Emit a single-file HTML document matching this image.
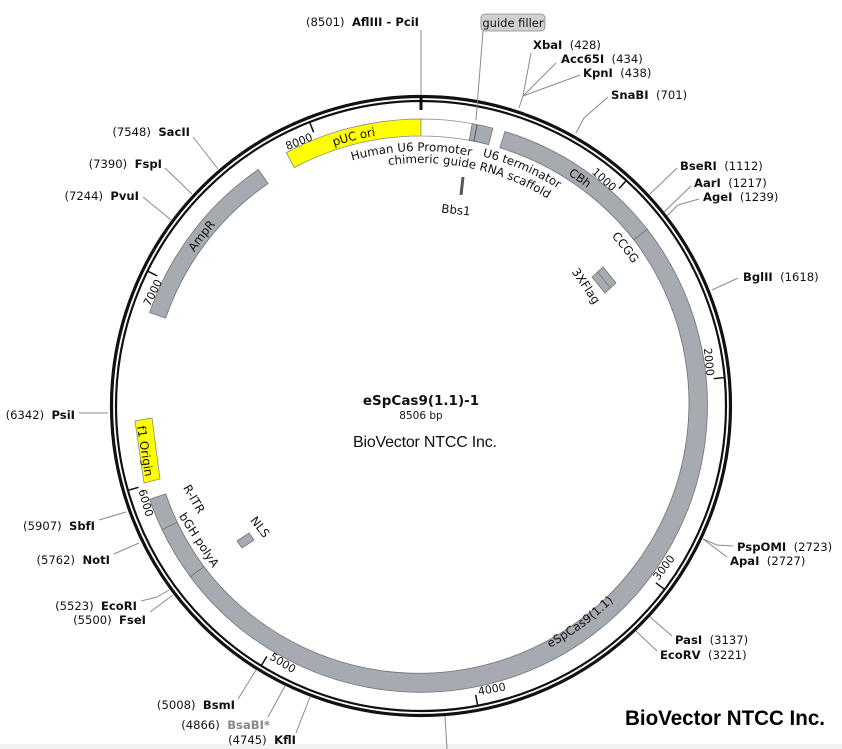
<!DOCTYPE html>
<html><head><meta charset="utf-8"><style>
html,body{margin:0;padding:0;background:#fff;}
svg{display:block;}
.e{font-family:"DejaVu Sans","Liberation Sans",sans-serif;font-size:11.6px;fill:#111;white-space:pre;}
.e tspan.b{font-weight:bold;}
.f{font-family:"DejaVu Sans","Liberation Sans",sans-serif;font-size:11.8px;fill:#111;}
.ln{stroke:#8a8a8a;stroke-width:1;fill:none;}
.band{fill:#a6abb1;stroke:#6f7378;stroke-width:0.8;}
.tk{stroke:#111;stroke-width:1.5;}
.tl{font-family:"DejaVu Sans","Liberation Sans",sans-serif;font-size:11px;fill:#111;}
</style></head><body>
<svg width="842" height="749" viewBox="0 0 842 749" xmlns="http://www.w3.org/2000/svg">
<defs>
<path id="c278" d="M421,684 A278,278 0 1 1 421,128 A278,278 0 1 1 421,684"/>
<path id="c255" d="M421,661 A255,255 0 1 1 421,151 A255,255 0 1 1 421,661"/>
<path id="c257" d="M421,663 A257,257 0 1 1 421,149 A257,257 0 1 1 421,663"/>
<path id="c243" d="M421,649 A243,243 0 1 1 421,163 A243,243 0 1 1 421,649"/>
<path id="w274" d="M421,680 A274,274 0 1 0 421,132 A274,274 0 1 0 421,680"/>
</defs>
<rect x="0" y="744" width="842" height="5" fill="#f2f2f2"/>

<circle cx="421" cy="406" r="309.5" fill="none" stroke="#111" stroke-width="3.2"/>
<circle cx="421" cy="406" r="305" fill="none" stroke="#111" stroke-width="2.2"/>

<path d="M286.3,152.6 A287,287 0 0,1 421,119 L421,136 A270,270 0 0,0 294.2,167.6 Z" fill="#ffff00" stroke="#888" stroke-width="0.8"/>
<path d="M421,119 A287,287 0 0,1 472.3,123.6 L469.3,140.3 A270,270 0 0,0 421,136 Z" fill="#fff" stroke="#888" stroke-width="0.8"/>
<path class="band" d="M472.3,123.6 A287,287 0 0,1 492.9,128.2 L488.6,144.6 A270,270 0 0,0 469.3,140.3 Z"/>
<line x1="477.2" y1="124.6" x2="473.9" y2="141.2" stroke="#555" stroke-width="1"/>
<path class="band" d="M504.9,131.5 A287,287 0 0,1 647.2,229.3 L633.8,239.8 A270,270 0 0,0 499.9,147.8 Z"/>
<path class="band" d="M647.2,229.3 A287,287 0 1,1 190.3,576.7 L203.9,566.6 A270,270 0 1,0 633.8,239.8 Z"/>
<path class="band" d="M190.3,576.7 A287,287 0 0,1 162.0,529.6 L177.3,522.2 A270,270 0 0,0 203.9,566.6 Z"/>
<path class="band" d="M162.0,529.6 A287,287 0 0,1 149.6,499.4 L165.7,493.9 A270,270 0 0,0 177.3,522.2 Z"/>
<path class="band" d="M149.6,312.6 A287,287 0 0,1 258.4,169.5 L268.1,183.5 A270,270 0 0,0 165.7,318.1 Z"/>
<polygon points="135,421 152,418 160,479 144,483" fill="#ffff00" stroke="#888" stroke-width="0.8"/>
<text class="f" transform="translate(145,451) rotate(81)" text-anchor="middle" dy="4">f1 Origin</text>
<polygon class="band" points="592,277 603,267 616,283 605,293"/>
<line x1="597.5" y1="272" x2="610.5" y2="288" stroke="#6f7378" stroke-width="0.8"/>
<polygon class="band" points="237,541 249,533 254,540 242,548"/>
<line x1="463" y1="177" x2="461" y2="195" stroke="#555" stroke-width="3"/>

<text class="f" dy="4"><textPath href="#c278" startOffset="46.1%" text-anchor="middle">pUC ori</textPath></text>
<text class="f"><textPath href="#c255" startOffset="49.4%" text-anchor="middle">Human U6 Promoter</textPath></text>
<text class="f"><textPath href="#c243" startOffset="53.3%" text-anchor="middle">chimeric guide RNA scaffold</textPath></text>
<text class="f"><textPath href="#c257" startOffset="56.4%" text-anchor="middle">U6 terminator</textPath></text>
<text class="f"><textPath href="#c255" startOffset="64.5%" text-anchor="middle">CCGG</textPath></text>
<text class="f" dy="4"><textPath href="#c278" startOffset="59.7%" text-anchor="middle">CBh</textPath></text>
<text class="f" dy="4"><textPath href="#c278" startOffset="35.5%" text-anchor="middle">AmpR</textPath></text>
<text class="f"><textPath href="#w274" startOffset="10.1%" text-anchor="middle">eSpCas9(1.1)</textPath></text>
<text class="f" transform="translate(194,499) rotate(60)" text-anchor="middle" dy="4">R-ITR</text>
<text class="f" transform="translate(199,540) rotate(57)" text-anchor="middle" dy="4">bGH polyA</text>
<text class="f" transform="translate(260,527) rotate(52)" text-anchor="middle" dy="4">NLS</text>
<text class="f" transform="translate(586,286) rotate(56)" text-anchor="middle" dy="4">3XFlag</text>
<text class="f" transform="translate(456,210) rotate(6)" text-anchor="middle" dy="4">Bbs1</text>

<line x1="421" y1="96" x2="421" y2="110" stroke="#111" stroke-width="3"/>
<g transform="rotate(42.32 421 406)"><line class="tk" x1="421" y1="101" x2="421" y2="112"/><text class="tl" x="418" y="119" text-anchor="end">1000</text></g>
<g transform="rotate(84.65 421 406)"><line class="tk" x1="421" y1="101" x2="421" y2="112"/><text class="tl" x="418" y="119" text-anchor="end">2000</text></g>
<g transform="rotate(-53.03 421 406)"><line class="tk" x1="421" y1="700" x2="421" y2="711"/><text class="tl" x="424" y="701" text-anchor="start">3000</text></g>
<g transform="rotate(-10.71 421 406)"><line class="tk" x1="421" y1="700" x2="421" y2="711"/><text class="tl" x="424" y="701" text-anchor="start">4000</text></g>
<g transform="rotate(31.61 421 406)"><line class="tk" x1="421" y1="700" x2="421" y2="711"/><text class="tl" x="424" y="701" text-anchor="start">5000</text></g>
<g transform="rotate(73.94 421 406)"><line class="tk" x1="421" y1="700" x2="421" y2="711"/><text class="tl" x="424" y="701" text-anchor="start">6000</text></g>
<g transform="rotate(296.26 421 406)"><line class="tk" x1="421" y1="101" x2="421" y2="112"/><text class="tl" x="418" y="119" text-anchor="end">7000</text></g>
<g transform="rotate(338.58 421 406)"><line class="tk" x1="421" y1="101" x2="421" y2="112"/><text class="tl" x="418" y="119" text-anchor="end">8000</text></g>

<line class="ln" x1="421" y1="95" x2="421" y2="30"/>
<line class="ln" x1="476" y1="120" x2="483" y2="31"/>
<polyline class="ln" points="519,108 523,96 531,53"/>
<polyline class="ln" points="523,96 556,63"/>
<polyline class="ln" points="523,96 580,75"/>
<polyline class="ln" points="576,133 584,118 608,97"/>
<line class="ln" x1="650" y1="194" x2="677" y2="168"/>
<line class="ln" x1="664" y1="212" x2="691" y2="186"/>
<polyline class="ln" points="667,216 678,205 699,199"/>
<line class="ln" x1="712" y1="290" x2="738" y2="278"/>
<polyline class="ln" points="703,539 717,545 733,546"/>
<line class="ln" x1="703" y1="539" x2="727" y2="557"/>
<line class="ln" x1="650" y1="617" x2="672" y2="636"/>
<line class="ln" x1="636" y1="631" x2="657" y2="651"/>
<line class="ln" x1="445" y1="716" x2="447" y2="749"/>
<line class="ln" x1="310" y1="697" x2="296" y2="733"/>
<line class="ln" x1="285" y1="686" x2="268" y2="717"/>
<line class="ln" x1="256" y1="670" x2="238" y2="699"/>
<line class="ln" x1="173" y1="595" x2="150" y2="612"/>
<polyline class="ln" points="169,590 157,597 141,601"/>
<line class="ln" x1="139" y1="543" x2="114" y2="554"/>
<line class="ln" x1="126" y1="512" x2="99" y2="520"/>
<line class="ln" x1="108" y1="413" x2="79" y2="413"/>
<line class="ln" x1="171" y1="220" x2="143" y2="197"/>
<line class="ln" x1="192" y1="194" x2="165" y2="168"/>
<line class="ln" x1="218" y1="169" x2="193" y2="137"/>

<rect x="481" y="14" width="64" height="17" rx="4" fill="#d0d0d0" stroke="#888" stroke-width="0.8"/>
<text x="513" y="27" text-anchor="middle" style="font-family:'DejaVu Sans',sans-serif;font-size:11.5px;fill:#111">guide filler</text>

<text class="e" x="419" y="26" text-anchor="end">(8501)  <tspan class="b">AflIII - PciI</tspan></text>
<text class="e" x="533" y="49"><tspan class="b">XbaI</tspan>  (428)</text>
<text class="e" x="561" y="63"><tspan class="b">Acc65I</tspan>  (434)</text>
<text class="e" x="583" y="77"><tspan class="b">KpnI</tspan>  (438)</text>
<text class="e" x="611" y="99"><tspan class="b">SnaBI</tspan>  (701)</text>
<text class="e" x="680" y="170"><tspan class="b">BseRI</tspan>  (1112)</text>
<text class="e" x="694" y="187"><tspan class="b">AarI</tspan>  (1217)</text>
<text class="e" x="703" y="201"><tspan class="b">AgeI</tspan>  (1239)</text>
<text class="e" x="743" y="281"><tspan class="b">BglII</tspan>  (1618)</text>
<text class="e" x="737" y="551"><tspan class="b">PspOMI</tspan>  (2723)</text>
<text class="e" x="730" y="565"><tspan class="b">ApaI</tspan>  (2727)</text>
<text class="e" x="675" y="644"><tspan class="b">PasI</tspan>  (3137)</text>
<text class="e" x="660" y="659"><tspan class="b">EcoRV</tspan>  (3221)</text>
<text class="e" x="296" y="744" text-anchor="end">(4745)  <tspan class="b">KflI</tspan></text>
<text class="e" x="270" y="729" text-anchor="end">(4866)  <tspan class="b" style="fill:#888">BsaBI*</tspan></text>
<text class="e" x="235" y="709" text-anchor="end">(5008)  <tspan class="b">BsmI</tspan></text>
<text class="e" x="146" y="624" text-anchor="end">(5500)  <tspan class="b">FseI</tspan></text>
<text class="e" x="137" y="610" text-anchor="end">(5523)  <tspan class="b">EcoRI</tspan></text>
<text class="e" x="110" y="564" text-anchor="end">(5762)  <tspan class="b">NotI</tspan></text>
<text class="e" x="95" y="530" text-anchor="end">(5907)  <tspan class="b">SbfI</tspan></text>
<text class="e" x="75" y="419" text-anchor="end">(6342)  <tspan class="b">PsiI</tspan></text>
<text class="e" x="139" y="200" text-anchor="end">(7244)  <tspan class="b">PvuI</tspan></text>
<text class="e" x="162" y="168" text-anchor="end">(7390)  <tspan class="b">FspI</tspan></text>
<text class="e" x="190" y="136" text-anchor="end">(7548)  <tspan class="b">SacII</tspan></text>

<text x="421" y="405" text-anchor="middle" style="font-family:'DejaVu Sans',sans-serif;font-size:13.5px;font-weight:bold;fill:#111">eSpCas9(1.1)-1</text>
<text x="421" y="419" text-anchor="middle" style="font-family:'DejaVu Sans',sans-serif;font-size:10.5px;fill:#111">8506 bp</text>
<text x="425" y="447" text-anchor="middle" textLength="144" style="font-family:'Liberation Sans',sans-serif;font-size:16px;fill:#111">BioVector NTCC Inc.</text>
<text x="625" y="725" textLength="200" lengthAdjust="spacingAndGlyphs" style="font-family:'Liberation Sans',sans-serif;font-size:21px;font-weight:bold;fill:#000">BioVector NTCC Inc.</text>
</svg>
</body></html>
